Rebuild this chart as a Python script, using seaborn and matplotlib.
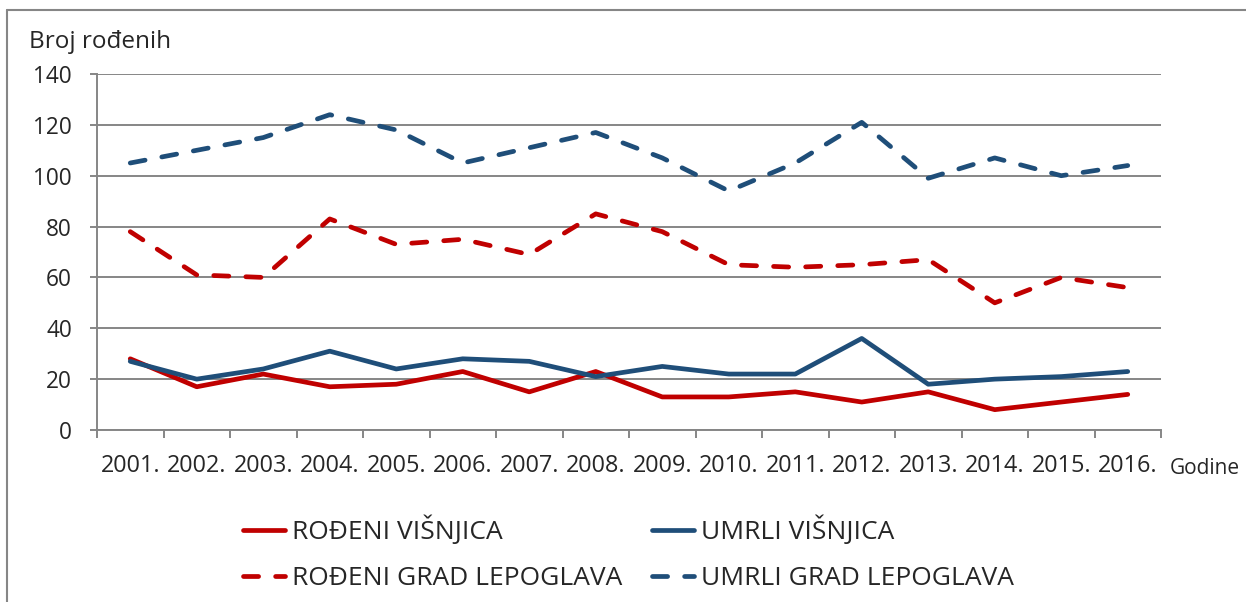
import numpy as np
import pandas as pd
import matplotlib
matplotlib.use('Agg')
import matplotlib.pyplot as plt
import seaborn as sns
from matplotlib.lines import Line2D

# data
years = ['2001.', '2002.', '2003.', '2004.', '2005.', '2006.', '2007.', '2008.',
         '2009.', '2010.', '2011.', '2012.', '2013.', '2014.', '2015.', '2016.']
rodeni_visnjica = [28, 17, 22, 17, 18, 23, 15, 23, 13, 13, 15, 11, 15, 8, 11, 14]
umrli_visnjica = [27, 20, 24, 31, 24, 28, 27, 21, 25, 22, 22, 36, 18, 20, 21, 23]
rodeni_lepoglava = [78, 61, 60, 83, 73, 75, 69, 85, 78, 65, 64, 65, 67, 50, 60, 56]
umrli_lepoglava = [105, 110, 115, 124, 118, 105, 111, 117, 107, 94, 105, 121, 99, 107, 100, 104]
y_ticks = [0, 20, 40, 60, 80, 100, 120, 140]

series = ['ROĐENI VIŠNJICA', 'UMRLI VIŠNJICA', 'ROĐENI GRAD LEPOGLAVA', 'UMRLI GRAD LEPOGLAVA']
values = [rodeni_visnjica, umrli_visnjica, rodeni_lepoglava, umrli_lepoglava]
df = pd.concat([pd.DataFrame({'pos': np.arange(len(years)), 'godina': years,
                              'broj': v, 'serija': s}) for s, v in zip(series, values)])

sns.set_style('white')
plt.rcParams['font.family'] = ['Open Sans', 'DejaVu Sans']

red = '#C00000'
blue = '#1F4E79'
grey = '#868686'

fig = plt.figure(figsize=(12.46, 6.02), dpi=100)
ax = fig.add_axes([97 / 1246, 1 - 430 / 602, (1161 - 97) / 1246, (430 - 74) / 602])

palette = {series[0]: red, series[1]: blue, series[2]: red, series[3]: blue}
dashes = {series[0]: '', series[1]: '', series[2]: (3.2, 3.6), series[3]: (3.2, 3.6)}
sns.lineplot(data=df, x='pos', y='broj', hue='serija', style='serija',
             palette=palette, dashes=dashes, hue_order=series, style_order=series,
             linewidth=3.4, ax=ax, legend=False)
for ln in ax.lines:
    ln.set_dash_capstyle('round')
    ln.set_solid_capstyle('round')

ax.set_xlim(-0.5, len(years) - 0.5)
ax.set_ylim(0, 140)
ax.set_yticks(y_ticks)
ax.yaxis.grid(True, color=grey, linewidth=1.4)
ax.set_axisbelow(True)
ax.set_xticks(np.arange(-0.5, len(years), 1.0))
ax.set_xticklabels([])
ax.set_xticks(np.arange(len(years)), minor=True)
ax.set_xticklabels(years, minor=True)
ax.tick_params(axis='x', which='major', direction='out', length=6, width=1.4, color=grey, bottom=True)
ax.tick_params(axis='x', which='minor', length=0, labelsize=16.8, pad=17)
ax.tick_params(axis='y', direction='out', length=5, width=1.4, color=grey, labelsize=16.3, pad=13, left=True)
ax.set_xlabel('')
ax.set_ylabel('')
for side in ['top', 'right']:
    ax.spines[side].set_visible(False)
for side in ['left', 'bottom']:
    ax.spines[side].set_color(grey)
    ax.spines[side].set_linewidth(1.4)

fig.text(29 / 1246, 1 - 42 / 602, 'Broj rođenih', fontsize=17.5, color='#262626', va='center', ha='left')
fig.text(1170 / 1246, 1 - 469 / 602, 'Godine', fontsize=15, color='#262626', va='center', ha='left')

handles = [Line2D([], [], color=red, lw=3.4, solid_capstyle='round'),
           Line2D([], [], color=red, lw=3.4, ls=(0, (3.2, 3.6)), dash_capstyle='round'),
           Line2D([], [], color=blue, lw=3.4, solid_capstyle='round'),
           Line2D([], [], color=blue, lw=3.4, ls=(0, (3.2, 3.6)), dash_capstyle='round')]
labels = [series[0], series[2], series[1], series[3]]
fig.legend(handles, labels, ncol=2, loc='upper left', bbox_to_anchor=(243 / 1246, 1 - 516 / 602),
           frameon=False, fontsize=19, handlelength=1.6, handletextpad=0.27,
           columnspacing=1.1, labelspacing=0.79, borderpad=0, borderaxespad=0)

# outer frame (top and left edges only visible)
fig.add_artist(Line2D([7 / 1246, 7 / 1246], [0, 1 - 10 / 602], color=grey, lw=1.5, transform=fig.transFigure))
fig.add_artist(Line2D([7 / 1246, 1], [1 - 10 / 602, 1 - 10 / 602], color=grey, lw=1.5, transform=fig.transFigure))

fig.savefig('out.png', dpi=100)
